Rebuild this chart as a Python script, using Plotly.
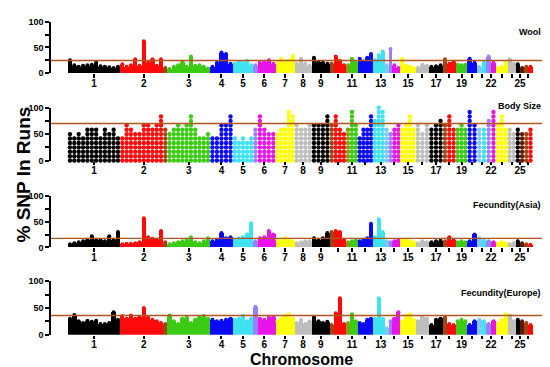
import plotly.graph_objects as go

# ---------------- data ----------------
chrom_len = [275, 248, 224, 119, 107, 117, 100, 90, 94, 86, 62, 79, 82, 62, 80, 71, 72, 68, 60, 51, 49, 50, 62, 42, 45, 44]
tick_labels = ["1", "2", "3", "4", "5", "6", "7", "8", "9", "", "11", "", "13", "", "15", "", "17", "", "19", "", "", "22", "", "", "25", ""]

wool = [
    [25, 15, 12, 14, 15, 16, 20, 13, 12, 11, 10, 12],
    [17, 12, 15, 27, 14, 62, 20, 27, 14, 27, 10],
    [8, 12, 15, 22, 12, 32, 14, 15, 12, 9],
    [12, 20, 40, 37, 18],
    [18, 22, 20, 24, 15],
    [15, 20, 22, 25, 18],
    [20, 28, 22, 25, 33],
    [18, 28, 18, 14],
    [30, 22, 20, 18],
    [18, 32, 24, 15],
    [15, 28, 20],
    [28, 22, 30, 37],
    [25, 35, 42, 15],
    [47, 15, 10],
    [28, 14, 12, 10],
    [10, 16, 14],
    [12, 13, 15],
    [27, 18, 22],
    [16, 15, 16],
    [28, 20],
    [12, 20],
    [32, 20],
    [10, 12, 20],
    [27, 18],
    [17, 10],
    [12, 12],
]

body_size = [
    [50, 42, 50, 42, 58, 58, 58, 42, 58, 50, 58, 42],
    [42, 67, 58, 50, 50, 67, 67, 58, 67, 83, 58],
    [50, 58, 67, 58, 67, 83, 58, 42, 42, 50],
    [42, 42, 67, 67, 83],
    [42, 33, 42, 33, 42],
    [58, 83, 58, 50, 50],
    [50, 58, 58, 92, 83],
    [67, 58, 58, 67],
    [67, 67, 67, 83],
    [67, 83, 58, 50],
    [58, 92, 67],
    [42, 58, 58, 83],
    [75, 100, 92, 58],
    [50, 58, 67],
    [58, 67, 83, 58],
    [67, 50, 67],
    [58, 67, 75],
    [67, 83, 58],
    [58, 67, 58],
    [92, 67],
    [58, 58],
    [75, 92],
    [67, 83, 58],
    [58, 50],
    [58, 50],
    [50, 58],
]

fec_asia = [
    [6, 8, 10, 12, 15, 22, 15, 14, 12, 22, 15, 30],
    [6, 7, 7, 8, 10, 57, 20, 17, 15, 32, 10],
    [6, 8, 10, 12, 15, 20, 10, 8, 12, 18],
    [12, 15, 28, 18, 20],
    [15, 18, 20, 25, 47],
    [12, 18, 20, 32, 25],
    [15, 12, 18, 15, 12],
    [8, 10, 12, 12],
    [18, 15, 18, 28],
    [30, 32, 30, 15],
    [10, 12, 14],
    [12, 15, 18, 46],
    [20, 55, 30, 12],
    [10, 12, 15],
    [15, 15, 12, 10],
    [8, 12, 10],
    [10, 12, 13],
    [12, 20, 14],
    [10, 12, 10],
    [12, 25],
    [18, 14],
    [12, 10],
    [8, 10, 8],
    [6, 8],
    [12, 8],
    [6, 5],
]

fec_europe = [
    [30, 37, 25, 22, 26, 24, 26, 20, 20, 22, 42, 28],
    [35, 30, 36, 30, 33, 50, 32, 28, 25, 22, 20],
    [36, 25, 20, 30, 33, 22, 28, 33, 35, 30],
    [28, 25, 26, 28, 30],
    [28, 30, 35, 25, 30],
    [52, 30, 28, 32, 33],
    [25, 30, 35, 38, 30],
    [22, 28, 20, 25],
    [33, 25, 22, 24],
    [18, 40, 68, 20],
    [22, 38, 25],
    [22, 20, 28, 30],
    [30, 68, 30, 12],
    [25, 30, 42],
    [25, 35, 38, 28],
    [25, 33, 30],
    [18, 28, 30],
    [32, 20, 18],
    [25, 28, 25],
    [18, 25],
    [28, 25],
    [20, 25],
    [22, 28, 38],
    [36, 25],
    [28, 25],
    [22, 18],
]

thresholds = [24.5, 70.0, 17.6, 35.8]
panel_titles = ["Wool", "Body Size", "Fecundity(Asia)", "Fecundity(Europe)"]
body_step = 100 / 12

# ---------------- style ----------------
palette = ["#000000", "#FF0A0A", "#3CCB14", "#0A0AF5", "#3FE3F0", "#E914E9", "#FFFF0A", "#BEBEBE"]
BROWN, PURPLE, OLIVE, LBLUE, DBROWN = "#A2440F", "#9A80FF", "#7EA40A", "#7FC8FF", "#5E1A05"
accents = {2: (BROWN, -1), 6: (PURPLE, 0), 10: (BROWN, 0), 11: (OLIVE, 0), 13: (LBLUE, -1),
           14: (PURPLE, 0), 18: (BROWN, 0), 21: (LBLUE, 0), 22: (PURPLE, 0), 25: (DBROWN, -1), 26: (BROWN, 0)}

W, H = 550, 367
x0_px, x1_px = 43, 541
panels_px = [(9, 61.7), (97.3, 151.7), (188.3, 241), (275.7, 330.7)]
title_y_px = [20, 95.7, 197.3, 287.7]
xrange = [-88, 2525]
FONT = "Liberation Sans, Arial"

starts = []
s = 0
for L in chrom_len:
    starts.append(s)
    s += L
centers = [st + L / 2 for st, L in zip(starts, chrom_len)]


def bins(values):
    xs, ws, ys, cs = [], [], [], []
    for ci, (st, L, vals) in enumerate(zip(starts, chrom_len, values)):
        n = len(vals)
        w = L / n
        for i, v in enumerate(vals):
            col = palette[ci % 8]
            acc = accents.get(ci + 1)
            if acc and (i == acc[1] or (acc[1] == -1 and i == n - 1)):
                col = acc[0]
            xs.append(st + (i + 0.5) * w)
            ws.append(w)
            ys.append(v)
            cs.append(col)
    return xs, ws, ys, cs


fig = go.Figure()
datasets = [wool, body_size, fec_asia, fec_europe]
for p, data in enumerate(datasets):
    xa = "x" if p == 0 else f"x{p+1}"
    ya = "y" if p == 0 else f"y{p+1}"
    xs, ws, ys, cs = bins(data)
    if p == 1:
        px, py, pc = [], [], []
        for x, v, c in zip(xs, ys, cs):
            k = 0
            while k * body_step <= v + 1.5:
                px.append(x)
                py.append(k * body_step)
                pc.append(c)
                k += 1
        fig.add_trace(go.Scatter(x=px, y=py, mode="markers", xaxis=xa, yaxis=ya,
                                 marker=dict(color=pc, size=4.4, line=dict(width=0)),
                                 cliponaxis=False, showlegend=False))
    else:
        fig.add_trace(go.Bar(x=xs, y=ys, width=ws, xaxis=xa, yaxis=ya,
                             marker=dict(color=cs, line=dict(width=0)), showlegend=False))
        fig.add_trace(go.Scatter(x=xs, y=ys, mode="markers", xaxis=xa, yaxis=ya,
                                 marker=dict(color=cs, size=4, line=dict(width=0)),
                                 cliponaxis=False, showlegend=False))
    fig.add_shape(type="line", xref=f"{xa} domain", yref=ya, x0=0, x1=1,
                  y0=thresholds[p], y1=thresholds[p], line=dict(color="#B0561E", width=1.4))
    fig.add_annotation(text=panel_titles[p], xref="paper", yref="paper", x=535 / W,
                       y=1 - title_y_px[p] / H, xanchor="right", yanchor="middle", showarrow=False,
                       font=dict(size=9, color="black", family=FONT, weight="bold"))

    top, bot = panels_px[p]
    xkey = "xaxis" if p == 0 else f"xaxis{p+1}"
    ykey = "yaxis" if p == 0 else f"yaxis{p+1}"
    fig.update_layout(**{
        xkey: dict(domain=[x0_px / W, x1_px / W], anchor=ya, range=xrange, showline=False,
                   showgrid=False, zeroline=False, ticks="outside", ticklen=3.5, tickwidth=1.5,
                   tickcolor="black", tickvals=centers, ticktext=tick_labels,
                   ticklabelstandoff=-3,
                   tickfont=dict(size=10, color="black", family=FONT, weight="bold")),
        ykey: dict(domain=[1 - bot / H, 1 - top / H], anchor=xa, range=[0, 100], showline=True,
                   linecolor="black", linewidth=1.5, showgrid=False, zeroline=False,
                   ticks="outside", ticklen=4, tickwidth=1.5, tickcolor="black",
                   tickvals=[0, 25, 50, 75, 100], ticktext=["0", "", "50", "", "100"],
                   tickfont=dict(size=9, color="black", family=FONT, weight="bold")),
    })

fig.add_annotation(text="% SNP In Runs", xref="paper", yref="paper", x=15 / W, y=1 - 166 / H,
                   textangle=-90, showarrow=False, xanchor="center", yanchor="middle",
                   font=dict(size=19, color="black", family=FONT, weight="bold"))
fig.add_annotation(text="Chromosome", xref="paper", yref="paper", x=293 / W, y=1 - 356 / H,
                   showarrow=False, xanchor="center", yanchor="middle", borderpad=0,
                   font=dict(size=16, color="black", family=FONT, weight="bold"))

fig.update_layout(width=W, height=H, margin=dict(l=0, r=0, t=0, b=0),
                  paper_bgcolor="white", plot_bgcolor="white", bargap=0)

fig.write_html("out.html")
